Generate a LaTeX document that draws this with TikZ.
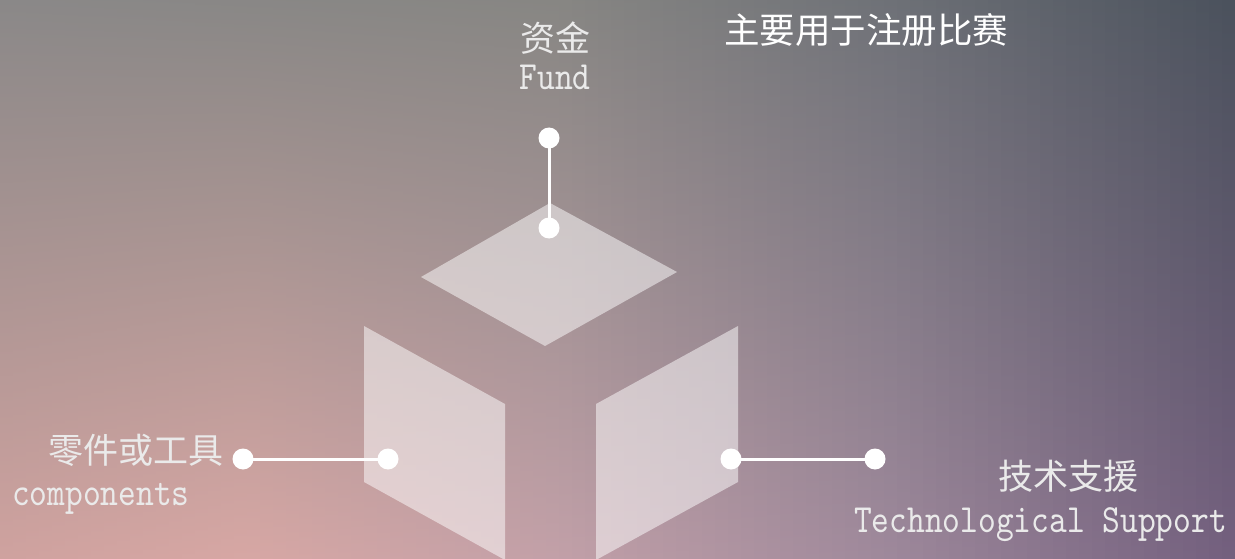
\documentclass[tikz,border=0pt]{standalone}
\usepackage{fontspec}
\newfontfamily\cjk{Noto Sans CJK SC}
\newfontfamily\lat{lmmono10-regular.otf}[FakeStretch=0.845]
\definecolor{tA}{HTML}{8A8888}
\definecolor{tB}{HTML}{878683}
\definecolor{tC}{HTML}{6E7177}
\definecolor{tD}{HTML}{4A515C}
\definecolor{bA}{HTML}{CFA29F}
\definecolor{bB}{HTML}{D7A7A4}
\definecolor{bC}{HTML}{C2A0A8}
\definecolor{bD}{HTML}{9E889B}
\definecolor{bE}{HTML}{735F7E}
\definecolor{txt}{HTML}{EAEAEA}
\begin{document}
\begin{tikzpicture}[x=1pt,y=-1pt,
  face/.style={fill=white, fill opacity=0.5},
  dot/.style={circle, fill=white, inner sep=0pt, minimum size=21pt},
  conn/.style={draw=white, line width=3pt},
  cn/.style={font=\cjk\fontsize{35}{40}\selectfont, text=txt, inner sep=0pt},
  en/.style={font=\lat\fontsize{40}{44}\selectfont, text=txt, inner sep=0pt},
  head/.style={font=\cjk\fontsize{35.5}{40}\selectfont, text=white, inner sep=0pt}]
\useasboundingbox (0,0) rectangle (1235,559);
% background: vertical strips, each a top-to-bottom gradient
\foreach \i in {0,...,94} {
  \pgfmathsetmacro\t{(\i+0.5)/95}
  \pgfmathtruncatemacro\pa{min(max(\t/0.45,0),1)*100}
  \pgfmathtruncatemacro\pb{min(max((\t-0.45)/0.27,0),1)*100}
  \pgfmathtruncatemacro\pc{min(max((\t-0.72)/0.28,0),1)*100}
  \colorlet{Ta}{tB!\pa!tA}\colorlet{Tb}{tC!\pb!Ta}\colorlet{Tc}{tD!\pc!Tb}
  \pgfmathtruncatemacro\qa{min(max(\t/0.2,0),1)*100}
  \pgfmathtruncatemacro\qb{min(max((\t-0.2)/0.25,0),1)*100}
  \pgfmathtruncatemacro\qc{min(max((\t-0.45)/0.27,0),1)*100}
  \pgfmathtruncatemacro\qd{min(max((\t-0.72)/0.28,0),1)*100}
  \colorlet{Ba}{bB!\qa!bA}\colorlet{Bb}{bC!\qb!Ba}\colorlet{Bc}{bD!\qc!Bb}\colorlet{Bd}{bE!\qd!Bc}
  \fill[top color=Tc, bottom color=Bd] (13*\i,0) rectangle (13*\i+13.8,559);
}
% cube faces
\fill[face] (421,277) -- (550,203) -- (677,272) -- (545,346) -- cycle;
\fill[face] (364,326) -- (505,404) -- (505,560) -- (364,482) -- cycle;
\fill[face] (596,404) -- (738,326) -- (738,482) -- (596,560) -- cycle;
% dots
\node[dot] (f1) at (549,138) {};
\node[dot] (f2) at (549,228) {};
\node[dot] (l1) at (243,459) {};
\node[dot] (l2) at (388,459) {};
\node[dot] (r1) at (731,459) {};
\node[dot] (r2) at (875,459) {};
\draw[conn] (f1.center) -- (f2.center);
\draw[conn] (l1.center) -- (l2.center);
\draw[conn] (r1.center) -- (r2.center);
% texts
\node[cn] (tfund) at (555,38) {资金};
\node[en, anchor=base] (efund) at (555,90) {Fund};
\node[head] (thead) at (866,30) {主要用于注册比赛};
\node[cn] (tcomp) at (136,450) {零件或工具};
\node[en, anchor=base west] (ecomp) at (12,505) {components};
\node[cn] (ttech) at (1068,476) {技术支援};
\node[en, anchor=base west] (etech) at (854,532) {Technological Support};
\end{tikzpicture}
\end{document}
